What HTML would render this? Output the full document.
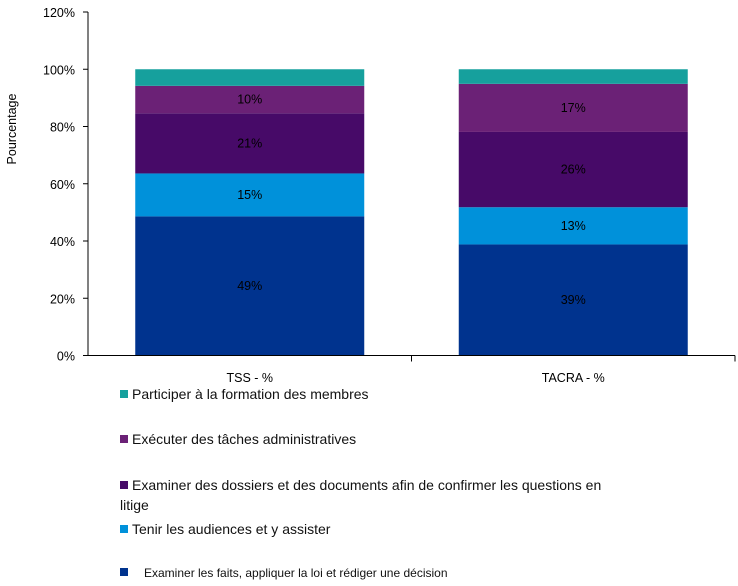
<!DOCTYPE html>
<html><head><meta charset="utf-8"><style>
body{margin:0;background:#fff;width:738px;height:586px;overflow:hidden;font-family:"Liberation Sans",sans-serif}
svg text{font-family:"Liberation Sans",sans-serif;fill:#000}
.lg{position:absolute;left:120px;font-size:14px;color:#111;white-space:nowrap;line-height:20px}
.sw{display:inline-block;width:8px;height:8px;margin-right:4px;vertical-align:1px}
</style></head><body>
<svg id="c" width="738" height="586" style="position:absolute;left:0;top:0"></svg>
<div class="lg" style="top:384px"><span class="sw" style="background:#16A09D"></span>Participer à la formation des membres</div>
<div class="lg" style="top:429px"><span class="sw" style="background:#6B2176"></span>Exécuter des tâches administratives</div>
<div class="lg" style="top:475px"><span class="sw" style="background:#470A68"></span>Examiner des dossiers et des documents afin de confirmer les questions en<br>litige</div>
<div class="lg" style="top:519px"><span class="sw" style="background:#0091DA"></span>Tenir les audiences et y assister</div>
<div class="lg" style="top:563px;font-size:12px"><span class="sw" style="background:#00338E;margin-right:16px"></span>Examiner les faits, appliquer la loi et rédiger une décision</div>
<script>
const categories=["TSS - %","TACRA - %"];
const sDecision=[48.6,38.8];
const sAudiences=[15,13];
const sDossiers=[21,26.3];
const sAdmin=[9.6,16.8];
const sFormation=[5.8,5.1];
const labDecision=["49%","39%"],labAudiences=["15%","13%"],labDossiers=["21%","26%"],labAdmin=["10%","17%"];
const ticks=[0,20,40,60,80,100,120];
const svg=document.getElementById('c');const NS='http://www.w3.org/2000/svg';
const y0=355.5,yTop=12,x0=88,xEnd=735;
const y=v=>y0-(v/120)*(y0-yTop);
const catW=(xEnd-x0)/categories.length,barW=229;
const bx=i=>x0+catW*i+(catW-barW)/2;
function mk(t,a,txt){const e=document.createElementNS(NS,t);for(const k in a)e.setAttribute(k,a[k]);if(txt!=null)e.textContent=txt;svg.appendChild(e);return e;}
const series=[[sDecision,labDecision,'#00338E','decision'],[sAudiences,labAudiences,'#0091DA','audiences'],[sDossiers,labDossiers,'#470A68','dossiers'],[sAdmin,labAdmin,'#6B2176','admin'],[sFormation,null,'#16A09D','formation']];
categories.forEach((c,i)=>{let acc=0;series.forEach(s=>{const v=s[0][i];const r=mk('rect',{x:bx(i),y:y(acc+v),width:barW,height:y(acc)-y(acc+v),fill:s[2]});


if(s[1]){const t=mk('text',{x:bx(i)+barW/2,y:y(acc+v/2)+4,'text-anchor':'middle','font-size':12.5},s[1][i]);

}
acc+=v;});
const l=mk('text',{x:x0+catW*i+catW/2,y:382,'text-anchor':'middle','font-size':12.5},c);


mk('line',{x1:x0+catW*(i+1),x2:x0+catW*(i+1),y1:y0,y2:y0+6,stroke:'#000'});});
ticks.forEach(t=>{mk('line',{x1:x0-5,x2:x0,y1:y(t),y2:y(t),stroke:'#000'});
const e=mk('text',{x:x0-13,y:y(t)+5,'text-anchor':'end','font-size':12.5},t+'%');

});
mk('line',{x1:x0,x2:x0,y1:yTop,y2:y0,stroke:'#000'});
mk('line',{x1:x0,x2:xEnd,y1:y0,y2:y0,stroke:'#000'});
const yt=mk('text',{x:0,y:0,transform:'translate(16,129) rotate(-90)','text-anchor':'middle','font-size':12.5},'Pourcentage');


</script>
</body></html>
